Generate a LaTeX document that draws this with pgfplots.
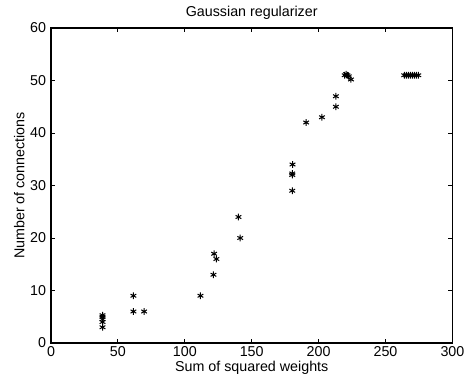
\documentclass[border=0pt]{standalone}
\usepackage{fontspec}
\setmainfont{Liberation Sans}
\usepackage{pgfplots}
\pgfplotsset{compat=1.18}
\begin{document}
\begin{tikzpicture}
\begin{axis}[
  scale only axis,
  width=281pt, height=220.5pt,
  xmin=0, xmax=300, ymin=0, ymax=60,
  xtick={0,50,...,300}, ytick={0,10,...,60},
  tick align=inside,
  major tick length=2.8pt,
  axis line style={line width=0.9pt},
  every tick/.style={black, line width=0.6pt},
  /pgf/number format/assume math mode=true,
  tick label style={font=\fontsize{10}{12}\selectfont},
  label style={font=\fontsize{10}{12}\selectfont},
  title style={font=\fontsize{10}{12}\selectfont, yshift=-3.5pt},
  title={Gaussian regularizer},
  xlabel={Sum of squared weights},
  ylabel={Number of connections},
  xlabel style={yshift=4pt},
  ylabel style={yshift=-3pt},
  xticklabel style={yshift=1pt},
]
\addplot[only marks, mark=asterisk, mark size=2.3pt, black, line width=0.7pt] coordinates {
(38.5,3) (38.5,4) (38.5,4.5) (38.5,5) (38.5,5.3)
(61.6,9) (61.6,6) (69.6,6)
(111.7,9) (121.4,13) (121.9,17) (123.6,16) (140.1,24) (141.4,20)
(180.3,29) (180.3,32) (180.3,32.3) (180.5,34)
(190.7,42) (202.5,43) (212.9,45) (212.9,47)
(219.5,51) (220.5,51.2) (221.5,51) (222.5,50.8) (224.2,50.2)
(264,51) (265.5,51) (267,51) (268.5,51) (270,51) (271.5,51) (273,51) (274.5,51)
};
\end{axis}
\pgfresetboundingbox
\path (-35.7pt,-27.3pt) rectangle (296.8pt,240.1pt);
\end{tikzpicture}
\end{document}
